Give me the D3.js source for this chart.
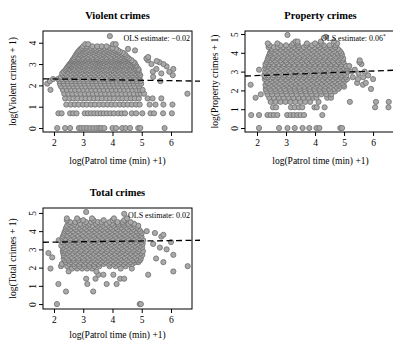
<!DOCTYPE html>
<html>
<head>
<meta charset="utf-8">
<script src="https://cdn.jsdelivr.net/npm/d3@7"></script>
<style>
body { margin: 0; background: #fff; }
svg { display: block; font-family: "Liberation Serif", "Times New Roman", serif; }
</style>
</head>
<body>
<svg width="393" height="341"></svg>
<script>
// each row: [log(crimes + 1), [log(patrol time + 1), ...]]
const violentRows = [
  [0, [2.11,2.38,2.55,2.85,2.93,3.03,3.13,3.24,3.35,3.46,3.55,3.62,3.72,4.0,4.12,4.33,4.45,4.6,4.88,4.95,5.78]],
  [0.69, [2.15,2.26,2.55,2.66,2.77,3.05,3.16,3.27,3.38,3.49,3.6,3.7,3.81,3.93,4.05,4.2,4.32,4.43,4.66,4.81,5.02,5.3,5.42,5.73,6.03]],
  [1.1, [2.42,2.57,2.71,2.84,2.99,3.12,3.27,3.4,3.55,3.69,3.83,3.97,4.1,4.25,4.38,4.52,4.66,4.81,4.93,5.27,5.47,5.74,6.05]],
  [1.39, [2.38,2.53,2.66,2.8,2.95,3.08,3.22,3.37,3.5,3.64,3.79,3.92,4.06,4.21,4.34,4.48,4.63,4.76,4.9,5.2,5.37,5.67]],
  [1.61, [2.35,2.49,2.63,2.77,2.91,3.05,3.19,3.33,3.47,3.61,3.75,3.89,4.03,4.17,4.31,4.45,4.59,4.73,4.87,4.97,5.08,6.56]],
  [1.79, [1.88,2.3,2.44,2.58,2.72,2.86,3.0,3.14,3.28,3.42,3.56,3.7,3.84,3.98,4.12,4.26,4.4,4.54,4.68,4.82,4.94,5.03]],
  [1.95, [2.24,2.39,2.52,2.67,2.8,2.95,3.08,3.23,3.36,3.51,3.64,3.79,3.92,4.07,4.2,4.35,4.48,4.63,4.76,4.91]],
  [2.08, [1.77,2.2,2.34,2.48,2.62,2.76,2.9,3.04,3.18,3.32,3.46,3.6,3.74,3.88,4.02,4.16,4.3,4.44,4.58,4.72,4.86,4.98]],
  [2.2, [1.86,2.19,2.31,2.46,2.59,2.74,2.87,3.02,3.15,3.3,3.43,3.58,3.71,3.86,3.99,4.14,4.27,4.42,4.55,4.7,4.83,4.96,5.64]],
  [2.3, [1.97,2.14,2.27,2.41,2.55,2.69,2.83,2.97,3.11,3.25,3.39,3.53,3.67,3.81,3.95,4.09,4.23,4.37,4.51,4.65,4.79,4.93]],
  [2.4, [2.24,2.37,2.52,2.69,2.84,2.99,3.16,3.33,3.48,3.63,3.8,3.97,4.12,4.27,4.44,4.61,4.76,4.91,5.39]],
  [2.48, [2.31,2.44,2.61,2.76,2.91,3.08,3.25,3.4,3.55,3.72,3.89,4.04,4.19,4.36,4.53,4.68,4.83,4.95,6.06]],
  [2.56, [2.28,2.39,2.56,2.71,2.86,3.03,3.2,3.35,3.5,3.67,3.84,3.99,4.14,4.31,4.48,4.63,4.78,4.9,5.67]],
  [2.64, [2.33,2.47,2.64,2.79,2.94,3.11,3.28,3.43,3.58,3.75,3.92,4.07,4.22,4.39,4.56,4.71,4.86,5.38,5.94]],
  [2.71, [2.39,2.57,2.72,2.89,3.06,3.21,3.36,3.53,3.7,3.85,4.0,4.17,4.34,4.49,4.64,4.81,4.9]],
  [2.77, [2.42,2.5,2.65,2.82,2.97,3.12,3.29,3.46,3.61,3.76,3.93,4.1,4.25,4.4,4.57,4.74,4.88,5.5,6.08]],
  [2.83, [2.45,2.54,2.69,2.84,3.01,3.18,3.33,3.48,3.65,3.82,3.97,4.12,4.29,4.46,4.61,4.77]],
  [2.89, [2.48,2.61,2.78,2.93,3.08,3.25,3.42,3.57,3.72,3.89,4.06,4.21,4.36,4.53,4.7,4.82,5.85]],
  [2.94, [2.51,2.57,2.72,2.87,3.04,3.21,3.36,3.51,3.68,3.85,4.0,4.15,4.32,4.49,4.64,4.79]],
  [3.0, [2.54,2.65,2.8,2.95,3.12,3.29,3.44,3.59,3.76,3.93,4.08,4.23,4.4,4.57,4.72,5.33,5.74]],
  [3.05, [2.58,2.75,2.9,3.05,3.22,3.39,3.54,3.69,3.86,4.03,4.18,4.33,4.5,4.67,4.76]],
  [3.09, [2.6,2.67,2.82,2.97,3.14,3.31,3.46,3.61,3.78,3.95,4.1,4.25,4.42,4.59,4.72,5.6]],
  [3.14, [2.62,2.71,2.86,3.01,3.18,3.35,3.5,3.65,3.82,3.99,4.14,4.29,4.46,4.63,5.51]],
  [3.18, [2.64,2.79,2.94,3.09,3.26,3.43,3.58,3.73,3.9,4.07,4.22,4.37,4.54,4.65,5.21]],
  [3.22, [2.66,2.76,2.91,3.06,3.23,3.4,3.55,3.7,3.87,4.04,4.19,4.34,4.51]],
  [3.26, [2.68,2.83,2.98,3.15,3.32,3.47,3.62,3.79,3.96,4.11,4.26,4.43,4.56,5.16]],
  [3.33, [2.71,2.84,3.01,3.16,3.31,3.48,3.65,3.8,3.95,4.12,4.29,4.44,4.5,5.22]],
  [3.4, [2.74,2.92,3.07,3.24,3.41,3.56,3.71,3.88,4.05,4.2,4.35,4.45]],
  [3.47, [2.77,2.88,3.03,3.18,3.35,3.52,3.67,3.82,3.99,4.16,4.31,4.42]],
  [3.53, [2.8,2.95,3.1,3.27,3.44,3.59,3.74,3.91,4.08,4.23,4.35]],
  [3.58, [2.83,2.89,3.06,3.21,3.36,3.53,3.7,3.85,4.0,4.17,4.25]],
  [3.64, [2.87,2.97,3.14,3.29,3.44,3.61,3.78,3.93,4.08,4.19,4.77]],
  [3.71, [2.91,3.01,3.18,3.33,3.48,3.65,3.82,3.97,4.12,4.53]],
  [3.76, [2.96,3.09,3.26,3.41,3.56,3.73,3.9,4.0]],
  [3.83, [3.0,3.12,3.31,3.48,3.63,3.8]],
  [3.93, [3.07,3.17,4.02,4.11]],
  [4.31, [3.91]]
];

const propertyRows = [
  [0, [2.07,2.76,3.05,3.3,3.57,3.8,4.05,4.15,4.87,4.93]],
  [0.69, [1.8,2.07,2.36,2.47,2.58,2.7,3.04,3.16,3.27,3.39,3.5,3.62,4.25]],
  [1.1, [2.55,2.66,3.17,3.3,3.45,3.56,3.98,4.06,4.33,6.07,6.53]],
  [1.39, [2.47,2.64,2.81,2.98,3.15,3.32,3.49,3.66,3.83,4.12,5.2,6.1,6.54]],
  [1.61, [1.95,2.42,2.58,2.75,2.92,3.09,3.26,3.43,3.6,3.77,3.94,4.05,4.42,4.55]],
  [1.79, [2.13,2.36,2.52,2.69,2.86,3.03,3.2,3.37,3.54,3.71,3.88,4.05,4.22,4.39,4.56]],
  [1.95, [2.32,2.48,2.65,2.82,2.99,3.16,3.33,3.5,3.67,3.84,4.01,4.18,4.35,4.52,4.69]],
  [2.08, [2.3,2.45,2.62,2.79,2.96,3.13,3.3,3.47,3.64,3.81,3.98,4.15,4.32,4.49,4.66,4.8,5.93]],
  [2.2, [2.33,2.41,2.57,2.74,2.91,3.1,3.29,3.46,3.63,3.82,4.01,4.18,4.35,4.54,4.73,4.88,5.0]],
  [2.3, [1.78,2.29,2.47,2.65,2.84,3.01,3.19,3.36,3.55,3.73,3.91,4.08,4.27,4.45,4.63,4.8,4.98,5.65]],
  [2.4, [2.35,2.42,2.6,2.79,2.96,3.14,3.33,3.5,3.68,3.86,4.05,4.22,4.4,4.58,4.76,4.94,5.45,5.75]],
  [2.5, [2.33,2.51,2.68,2.87,3.05,3.23,3.41,3.59,3.77,3.95,4.13,4.31,4.49,4.67,4.85,5.02]],
  [2.6, [2.27,2.45,2.63,2.81,2.99,3.17,3.35,3.53,3.71,3.89,4.07,4.25,4.43,4.61,4.79,4.97,5.1,5.48,6.0]],
  [2.7, [2.3,2.38,2.54,2.72,2.9,3.08,3.26,3.44,3.62,3.8,3.98,4.16,4.34,4.52,4.7,4.88,5.06,5.3,5.66]],
  [2.8, [2.25,2.4,2.58,2.76,2.94,3.12,3.3,3.48,3.66,3.84,4.02,4.2,4.38,4.56,4.74,4.92,5.08,5.83]],
  [2.9, [2.31,2.49,2.67,2.85,3.03,3.21,3.39,3.57,3.75,3.93,4.11,4.29,4.47,4.65,4.83,5.01,5.5]],
  [3.0, [2.28,2.43,2.61,2.79,2.97,3.15,3.33,3.51,3.69,3.87,4.05,4.23,4.41,4.59,4.77,4.95,5.12,5.25,5.71]],
  [3.1, [2.07,2.34,2.52,2.7,2.88,3.06,3.24,3.42,3.6,3.78,3.96,4.14,4.32,4.5,4.68,4.86,5.04,5.37]],
  [3.2, [2.28,2.46,2.64,2.82,3.0,3.18,3.36,3.54,3.72,3.9,4.08,4.26,4.44,4.62,4.8,4.98,5.1]],
  [3.3, [2.31,2.39,2.55,2.73,2.91,3.09,3.27,3.45,3.63,3.81,3.99,4.17,4.35,4.53,4.71,4.89,5.07,5.18]],
  [3.4, [2.29,2.41,2.57,2.75,2.93,3.11,3.29,3.47,3.65,3.83,4.01,4.19,4.37,4.55,4.73,4.91,5.6]],
  [3.5, [2.34,2.48,2.66,2.84,3.02,3.2,3.38,3.56,3.74,3.92,4.1,4.28,4.46,4.64,4.82,4.98,5.53]],
  [3.6, [2.36,2.44,2.62,2.8,2.98,3.16,3.34,3.52,3.7,3.88,4.06,4.24,4.42,4.6,4.78,4.94,5.54]],
  [3.7, [2.38,2.53,2.71,2.89,3.07,3.25,3.43,3.61,3.79,3.97,4.15,4.33,4.51,4.69,4.87,4.97]],
  [3.8, [2.4,2.56,2.74,2.92,3.1,3.28,3.46,3.64,3.82,4.0,4.18,4.36,4.54,4.72,4.9]],
  [3.9, [2.43,2.47,2.65,2.83,3.01,3.19,3.37,3.55,3.73,3.91,4.09,4.27,4.45,4.63,4.81,4.93]],
  [4.0, [2.45,2.6,2.78,2.96,3.14,3.32,3.5,3.68,3.86,4.04,4.22,4.4,4.58,4.76,4.9]],
  [4.1, [2.48,2.51,2.69,2.87,3.05,3.23,3.41,3.59,3.77,3.95,4.13,4.31,4.49,4.67,4.85]],
  [4.2, [2.52,2.63,2.81,2.99,3.17,3.35,3.53,3.71,3.89,4.07,4.25,4.43,4.61,4.79]],
  [4.3, [2.4,2.58,2.72,2.9,3.08,3.26,3.44,3.62,3.8,3.98,4.16,4.34,4.52,4.7]],
  [4.4, [2.43,2.8,3.0,3.2,3.42,3.7,3.9,4.1,4.3,4.5,4.72]],
  [4.5, [2.37,2.7,3.25,3.38,3.72,4.0,4.21,4.76]],
  [4.6, [3.33,3.4,4.2,4.65]],
  [4.85, [4.37]],
  [4.95, [3.05]]
];

const totalRows = [
  [0, [2.1,4.93,4.97]],
  [0.69, [2.41,3.34]],
  [1.1, [2.15,3.14,3.8,4.14]],
  [1.39, [3.1,3.42,4.26,4.4]],
  [1.61, [3.52,3.69,4.03,5.22]],
  [1.79, [2.5,3.45,6.08]],
  [1.95, [1.88,2.62,2.79,2.96,3.13,3.3,4.28,4.66]],
  [2.08, [2.24,2.45,2.7,2.87,3.04,3.21,3.38,3.55,3.9,4.1,4.45,6.57]],
  [2.2, [2.27,2.52,2.68,2.85,3.02,3.19,3.36,3.53,3.7,3.87,4.04,4.21,4.38,4.55,4.68]],
  [2.3, [2.4,2.58,2.74,2.91,3.08,3.25,3.42,3.59,3.76,3.93,4.1,4.27,4.44,4.61,4.78,4.88,5.74]],
  [2.4, [2.37,2.5,2.66,2.83,3.0,3.17,3.34,3.51,3.68,3.85,4.02,4.19,4.36,4.53,4.7,4.86,4.94]],
  [2.5, [2.33,2.47,2.65,2.83,3.01,3.19,3.37,3.55,3.73,3.91,4.09,4.27,4.45,4.63,4.81,4.97,5.49]],
  [2.56, [1.94]],
  [2.6, [2.36,2.42,2.6,2.78,2.96,3.14,3.32,3.5,3.68,3.86,4.04,4.22,4.4,4.58,4.76,4.94]],
  [2.7, [2.33,2.51,2.69,2.87,3.05,3.23,3.41,3.59,3.77,3.95,4.13,4.31,4.49,4.67,4.85,5.02,6.08]],
  [2.8, [1.81,2.32,2.45,2.63,2.81,2.99,3.17,3.35,3.53,3.71,3.89,4.07,4.25,4.43,4.61,4.79,4.97]],
  [2.9, [2.3,2.36,2.54,2.72,2.9,3.08,3.26,3.44,3.62,3.8,3.98,4.16,4.34,4.52,4.7,4.88,5.04]],
  [3.0, [2.32,2.4,2.58,2.76,2.94,3.12,3.3,3.48,3.66,3.84,4.02,4.2,4.38,4.56,4.74,4.92,5.85]],
  [3.1, [2.31,2.49,2.67,2.85,3.03,3.21,3.39,3.57,3.75,3.93,4.11,4.29,4.47,4.65,4.83,5.01,5.62]],
  [3.2, [2.25,2.43,2.61,2.79,2.97,3.15,3.33,3.51,3.69,3.87,4.05,4.23,4.41,4.59,4.77,4.95]],
  [3.3, [2.34,2.52,2.7,2.88,3.06,3.24,3.42,3.6,3.78,3.96,4.14,4.32,4.5,4.68,4.86,5.03,5.39]],
  [3.4, [2.28,2.46,2.64,2.82,3.0,3.18,3.36,3.54,3.72,3.9,4.08,4.26,4.44,4.62,4.8,4.98,6.0]],
  [3.5, [2.16,2.37,2.55,2.73,2.91,3.09,3.27,3.45,3.63,3.81,3.99,4.17,4.35,4.53,4.71,4.89,5.05]],
  [3.6, [2.29,2.39,2.57,2.75,2.93,3.11,3.29,3.47,3.65,3.83,4.01,4.19,4.37,4.55,4.73,4.91]],
  [3.7, [2.3,2.48,2.66,2.84,3.02,3.2,3.38,3.56,3.74,3.92,4.1,4.28,4.46,4.64,4.82,4.99,5.67]],
  [3.8, [2.34,2.44,2.62,2.8,2.98,3.16,3.34,3.52,3.7,3.88,4.06,4.24,4.42,4.6,4.78,4.96,5.74]],
  [3.9, [2.35,2.53,2.71,2.89,3.07,3.25,3.43,3.61,3.79,3.97,4.15,4.33,4.51,4.69,4.87,5.0,5.45]],
  [4.0, [2.38,2.47,2.65,2.83,3.01,3.19,3.37,3.55,3.73,3.91,4.09,4.27,4.45,4.63,4.81,4.95,5.17]],
  [4.1, [2.4,2.56,2.74,2.92,3.1,3.28,3.46,3.64,3.82,4.0,4.18,4.36,4.54,4.72,4.9]],
  [4.2, [2.42,2.5,2.68,2.86,3.04,3.22,3.4,3.58,3.76,3.94,4.12,4.3,4.48,4.66,4.84]],
  [4.3, [2.45,2.59,2.77,2.95,3.13,3.31,3.49,3.67,3.85,4.03,4.21,4.39,4.57,4.75,4.88]],
  [4.4, [2.52,2.7,2.9,3.05,3.2,3.44,3.6,3.8,3.98,4.2,4.36,4.55,4.74]],
  [4.5, [2.55,2.73,3.09,3.27,3.5,3.63,3.9,4.17,4.35,4.62]],
  [4.6, [2.44,2.84,3.0,3.35,3.7,4.0,4.4]],
  [4.7, [2.44,2.79,3.3,4.05,4.5]],
  [4.95, [4.4]],
  [5.05, [3.1]]
];

const xTicks = [2, 3, 4, 5, 6];
const violentTicks = [0, 1, 2, 3, 4];
const propertyTicks = [0, 1, 2, 3, 4, 5];
const totalTicks = [0, 1, 2, 3, 4, 5];

// OLS fit: intercept, slope
const violentFit = [2.34, -0.02];
const propertyFit = [2.67, 0.06];
const totalFit = [3.36, 0.02];

const svg = d3.select("svg");

function panel(opt) {
  const g = svg.append("g");
  const x = d3.scaleLinear().domain(opt.xDomain).range([opt.left, opt.right]);
  const y = d3.scaleLinear().domain(opt.yDomain).range([opt.bottom, opt.top]);

  const pts = [];
  opt.rows.forEach(([yv, xs]) => xs.forEach(xv => pts.push([xv, yv])));

  g.append("g").selectAll("circle")
    .data(pts)
    .join("circle")
    .attr("cx", d => x(d[0]))
    .attr("cy", d => y(d[1]))
    .attr("r", 2.6)
    .attr("fill", "#a9a9a9")
    .attr("stroke", "#6e6e6e")
    .attr("stroke-width", 0.8);

  // fitted line
  const x0 = opt.xDomain[0], x1 = x.invert(opt.lineEnd);
  g.append("line")
    .attr("x1", x(x0)).attr("y1", y(opt.fit[0] + opt.fit[1] * x0))
    .attr("x2", x(x1)).attr("y2", y(opt.fit[0] + opt.fit[1] * x1))
    .attr("stroke", "#000")
    .attr("stroke-width", 1.3)
    .attr("stroke-dasharray", "6,3.5");

  // box
  g.append("rect")
    .attr("x", opt.left).attr("y", opt.top)
    .attr("width", opt.right - opt.left).attr("height", opt.bottom - opt.top)
    .attr("fill", "none").attr("stroke", "#000").attr("stroke-width", 1);

  // x axis
  const xa = g.append("g")
    .attr("transform", `translate(0,${opt.bottom})`)
    .call(d3.axisBottom(x).tickValues(xTicks).tickSize(4).tickPadding(3).tickFormat(d3.format("d")));
  xa.select(".domain").remove();
  xa.selectAll("text").attr("font-size", 9.5).attr("font-family", "Liberation Serif").attr("fill", "#000");

  // y axis, labels parallel to the axis
  const ya = g.append("g")
    .attr("transform", `translate(${opt.left},0)`)
    .call(d3.axisLeft(y).tickValues(opt.yTicks).tickSize(4).tickFormat(d3.format("d")));
  ya.select(".domain").remove();
  ya.selectAll("text")
    .attr("x", null).attr("dy", null)
    .attr("text-anchor", "middle")
    .attr("font-size", 9.5).attr("font-family", "Liberation Serif").attr("fill", "#000")
    .attr("transform", "translate(-10,0) rotate(-90) translate(0,3.3)");

  g.append("text")
    .attr("x", (opt.left + opt.right) / 2).attr("y", opt.top - 12)
    .attr("text-anchor", "middle")
    .attr("font-weight", "bold").attr("font-size", 10.5).attr("fill", "#000")
    .text(opt.title);

  g.append("text")
    .attr("x", (opt.left + opt.right) / 2).attr("y", opt.bottom + opt.xLabelDy)
    .attr("text-anchor", "middle")
    .attr("font-size", 9.5).attr("fill", "#000")
    .text("log(Patrol time (min) +1)");

  g.append("text")
    .attr("transform", `translate(${opt.left - 27},${(opt.top + opt.bottom) / 2}) rotate(-90)`)
    .attr("text-anchor", "middle")
    .attr("font-size", 9.5).attr("fill", "#000")
    .text(opt.yLabel);

  const ols = g.append("text")
    .attr("x", opt.olsX).attr("y", opt.top + 10)
    .attr("text-anchor", opt.olsAnchor)
    .attr("font-size", 8).attr("fill", "#000")
    .text(opt.ols);
  if (opt.star) ols.append("tspan").attr("dy", -3).attr("font-size", 5.5).text("*");
}

panel({
  rows: violentRows, title: "Violent crimes", yLabel: "log(Violent crimes + 1)",
  left: 43, right: 192, top: 31, bottom: 132, xLabelDy: 32,
  xDomain: [1.624, 6.718], yDomain: [-0.186, 4.55], yTicks: violentTicks,
  fit: violentFit, lineEnd: 200,
  ols: "OLS estimate: \u22120.02", olsX: 190, olsAnchor: "end"
});

panel({
  rows: propertyRows, title: "Property crimes", yLabel: "log(Property crimes + 1)",
  left: 245, right: 396, top: 31, bottom: 132, xLabelDy: 32,
  xDomain: [1.586, 6.79], yDomain: [-0.213, 5.16], yTicks: propertyTicks,
  fit: propertyFit, lineEnd: 393,
  ols: "OLS estimate: 0.06", olsX: 321, olsAnchor: "start", star: true
});

panel({
  rows: totalRows, title: "Total crimes", yLabel: "log(Total crimes + 1)",
  left: 43, right: 192, top: 208, bottom: 309, xLabelDy: 28.5,
  xDomain: [1.624, 6.718], yDomain: [-0.27, 5.27], yTicks: totalTicks,
  fit: totalFit, lineEnd: 200,
  ols: "OLS estimate: 0.02", olsX: 190, olsAnchor: "end"
});
</script>
</body>
</html>
